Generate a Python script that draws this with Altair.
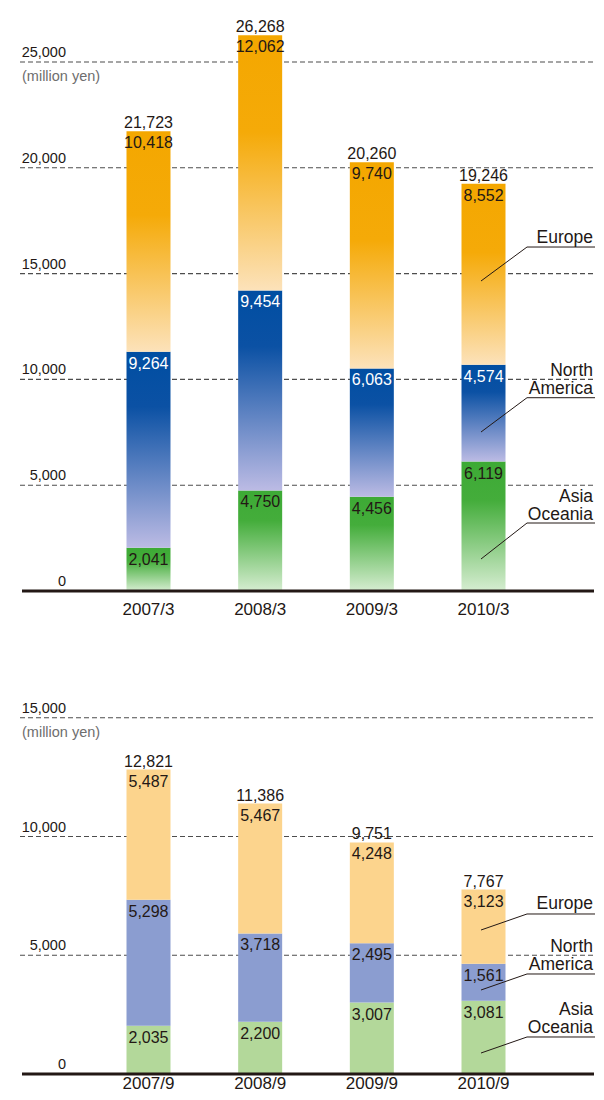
import altair as alt
import pandas as pd

# ---------- data ----------
cats_a = ["2007/3", "2008/3", "2009/3", "2010/3"]
asia_a = [2041, 4750, 4456, 6119]
na_a = [9264, 9454, 6063, 4574]
eu_a = [10418, 12062, 9740, 8552]
tot_a = [21723, 26268, 20260, 19246]

cats_b = ["2007/9", "2008/9", "2009/9", "2010/9"]
asia_b = [2035, 2200, 3007, 3081]
na_b = [5298, 3718, 2495, 1561]
eu_b = [5487, 5467, 4248, 3123]
tot_b = [12821, 11386, 9751, 7767]

ticks_a = [0, 5000, 10000, 15000, 20000, 25000]
ticks_b = [0, 5000, 10000, 15000]

# annotation anchors (in data units of each panel)
ann_text = ["Europe", "North", "America", "Asia", "Oceania"]
ann_text_y_a = [16444, 10160, 9309, 4206, 3355]
ann_under_a = [16255, 9134, 3213]
ann_point_a = [14649, 7513, 1512]
ann_text_y_b = [6947, 5137, 4379, 2484, 1726]
ann_under_b = [6737, 4211, 1558]
ann_point_b = [6063, 3537, 884]

FONT = "Liberation Sans"
DARK = "#231815"
W = 588
RIGHT = 586


def grad(stops):
    return alt.LinearGradient(
        gradient="linear",
        stops=[alt.GradientStop(offset=o, color=c) for o, c in stops],
        x1=0, x2=0, y1=0, y2=1,
    )


fills_a = [
    grad([(0, "#3DAA35"), (0.3, "#44AD3B"), (1, "#D6EDD1")]),
    grad([(0, "#004EA2"), (0.28, "#0B51A4"), (1, "#BCBBE4")]),
    grad([(0, "#F4A700"), (0.38, "#F5AA08"), (1, "#FCE2BA")]),
]
fills_b = ["#B3D89A", "#8B9DD0", "#FCD48D"]
txtcol_a = [DARK, "white", DARK]
txtcol_b = [DARK, DARK, DARK]


def panel(cats, asia, na, eu, tot, ticks, ymax, height, fills, txtcols,
          ann_y, under_y, point_y, lab_pad):
    xs = alt.X("cat:N", sort=cats,
               scale=alt.Scale(domain=cats, range=[118.5, 497.5],
                               paddingInner=0.606, paddingOuter=0),
               axis=alt.Axis(title=None, ticks=False, domain=False,
                             labelAngle=0, labelFont=FONT, labelFontSize=17,
                             labelColor=DARK, labelPadding=lab_pad))
    ysc = alt.Scale(domain=[0, ymax], nice=False, zero=True)

    layers = []
    # gridlines
    grid_df = pd.DataFrame({"v": [t for t in ticks if t > 0]})
    layers.append(alt.Chart(grid_df).mark_rule(
        color="#4D4D4D", strokeWidth=1.1, strokeDash=[5, 3]).encode(
        y=alt.Y("v:Q", scale=ysc, axis=None),
        x=alt.value(12), x2=alt.value(RIGHT)))

    # bars
    series = [asia, na, eu]
    lo = [0] * len(cats)
    for i, s in enumerate(series):
        hi = [a + b for a, b in zip(lo, s)]
        df = pd.DataFrame({"cat": cats, "lo": lo, "hi": hi, "val": s})
        layers.append(alt.Chart(df).mark_bar(color=fills[i]).encode(
            x=xs,
            y=alt.Y("lo:Q", scale=ysc, axis=None),
            y2="hi:Q"))
        layers.append(alt.Chart(df).mark_text(
            font=FONT, fontSize=16, baseline="top", dy=4,
            color=txtcols[i]).encode(
            x=xs, y=alt.Y("hi:Q", scale=ysc, axis=None),
            text=alt.Text("val:Q", format=",")))
        lo = hi

    # totals
    tdf = pd.DataFrame({"cat": cats, "top": lo, "tot": tot})
    layers.append(alt.Chart(tdf).mark_text(
        font=FONT, fontSize=16, baseline="alphabetic", dy=-3,
        color=DARK).encode(
        x=xs, y=alt.Y("top:Q", scale=ysc, axis=None),
        text=alt.Text("tot:Q", format=",")))

    # baseline
    layers.append(alt.Chart(pd.DataFrame({"v": [0]})).mark_rule(
        color=DARK, strokeWidth=3).encode(
        y=alt.Y("v:Q", scale=ysc, axis=None),
        x=alt.value(14), x2=alt.value(RIGHT)))

    # tick labels
    tick_df = pd.DataFrame({"v": ticks})
    layers.append(alt.Chart(tick_df).mark_text(
        font=FONT, fontSize=14.5, align="right", baseline="alphabetic",
        dy=-5, color=DARK).encode(
        y=alt.Y("v:Q", scale=ysc, axis=None), x=alt.value(58),
        text=alt.Text("v:Q", format=",")))

    # unit label
    layers.append(alt.Chart(pd.DataFrame({"v": [ticks[-1]],
                                          "t": ["(million yen)"]})).mark_text(
        font=FONT, fontSize=14.5, align="left", baseline="alphabetic",
        dy=19, color="#6E6E6E").encode(
        y=alt.Y("v:Q", scale=ysc, axis=None), x=alt.value(14),
        text="t:N"))

    # annotations
    adf = pd.DataFrame({"t": ann_text, "v": ann_y})
    layers.append(alt.Chart(adf).mark_text(
        font=FONT, fontSize=17.5, align="right", baseline="alphabetic",
        color=DARK).encode(
        y=alt.Y("v:Q", scale=ysc, axis=None), x=alt.value(585),
        text="t:N"))
    ldf = pd.DataFrame({"u": under_y, "p": point_y})
    layers.append(alt.Chart(ldf).mark_rule(color=DARK, strokeWidth=1).encode(
        y=alt.Y("u:Q", scale=ysc, axis=None), y2="u:Q",
        x=alt.value(519), x2=alt.value(RIGHT + 1)))
    layers.append(alt.Chart(ldf).mark_rule(color=DARK, strokeWidth=1).encode(
        y=alt.Y("u:Q", scale=ysc, axis=None), y2="p:Q",
        x=alt.value(519), x2=alt.value(473)))

    return alt.layer(*layers).properties(width=W, height=height)


top = panel(cats_a, asia_a, na_a, eu_a, tot_a, ticks_a, 27550, 583,
            fills_a, txtcol_a, ann_text_y_a, ann_under_a, ann_point_a, 10)
bottom = panel(cats_b, asia_b, na_b, eu_b, tot_b, ticks_b, 16000, 380,
               fills_b, txtcol_b, ann_text_y_b, ann_under_b, ann_point_b, 1)

chart = alt.vconcat(top, bottom, spacing=77).properties(
    padding=0).configure_view(stroke=None)

chart.save("out.html", embed_options={"renderer": "svg", "actions": False})
